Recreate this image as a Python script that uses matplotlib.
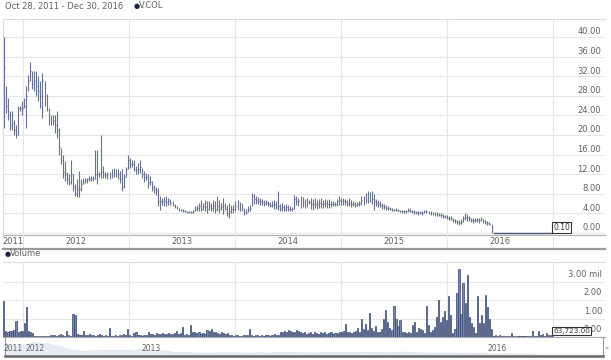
import matplotlib
matplotlib.use('Agg')
import matplotlib.pyplot as plt
import matplotlib.dates as mdates
from matplotlib.lines import Line2D
import pandas as pd
import numpy as np

plt.rcParams['font.family'] = ['DejaVu Sans']

# ---------------- data ----------------
start_date = '2011-10-28'
high = [
    40, 30, 27.5, 25, 25, 23, 22, 26, 26, 27,
    27.6, 30, 32.3, 35, 33, 33, 33, 32, 31, 32.7,
    31, 28.3, 25.5, 24, 24, 24, 25, 21.5, 17.4, 16,
    14.7, 12.5, 12, 15, 12, 10, 11, 12.7, 11, 11.3,
    11.3, 11.3, 11.7, 11.7, 11.7, 17, 17, 12.5, 20, 13.7,
    12.5, 12.5, 12.5, 13, 13.3, 13, 13, 12.6, 13, 12,
    13.5, 16, 15.3, 15, 15, 13.6, 14.3, 15, 13.3, 12.6,
    12.3, 12, 11.6, 10.6, 9.9, 9.5, 9.2, 7.5, 7.2, 7.3,
    7.5, 7.2, 7, 6.5, 6, 5.6, 5.2, 5, 4.9, 4.7,
    4.5, 4.5, 4.6, 4.8, 5.5, 5.8, 6.1, 6.8, 6.2, 6.8,
    6.5, 6.5, 6.2, 6.8, 6.5, 7.5, 6.8, 6.2, 7.2, 6.2,
    5.8, 6.1, 5.8, 5.8, 6.5, 6.8, 6.4, 6.2, 5.1, 5,
    5.5, 5.8, 8.2, 8, 7.5, 7.3, 7.2, 7, 6.8, 6.8,
    6.5, 6.4, 6.5, 6.8, 6.5, 8.5, 6, 6.1, 5.8, 6,
    5.8, 5.6, 5.4, 7.8, 7.5, 7.2, 7.5, 7.3, 7, 7.2,
    6.8, 7.1, 7, 7.1, 6.8, 7, 7.1, 6.8, 7, 6.8,
    7, 6.6, 6.6, 6.4, 7, 7.5, 7.2, 7.2, 7, 6.8,
    7.1, 6.8, 6.6, 6.4, 6.4, 6.6, 7.5, 7.6, 8.2, 8.5,
    8.3, 8.5, 8, 7, 6.8, 6.5, 6.1, 6, 5.8, 5.6,
    5.4, 5.1, 5, 5.1, 5, 4.8, 4.8, 4.7, 4.8, 5.1,
    5.1, 4.8, 4.7, 4.6, 4.5, 4.6, 4.5, 4.8, 4.8, 4.4,
    4.4, 4.3, 4.3, 4.2, 4.1, 4, 3.8, 3.7, 3.6, 3.5,
    3.4, 3.1, 2.9, 2.7, 2.6, 2.8, 3.5, 4.1, 3.8, 3.5,
    3.1, 3, 3, 3.1, 3, 3.2, 2.8, 2.6, 2.4, 2.3,
    1.9,
    0.1, 0.1, 0.1, 0.1, 0.1, 0.1, 0.1, 0.1, 0.1, 0.1,
    0.1, 0.1, 0.1, 0.1, 0.1, 0.1, 0.1, 0.1, 0.1, 0.1,
    0.1, 0.1, 0.1, 0.1, 0.1, 0.1, 0.1, 0.1, 0.1, 0.1,
]
low = [
    21.5, 24.5, 23, 21, 21, 20, 19.5, 20, 25, 24,
    25.5, 21.5, 29, 31, 29.5, 29, 28, 27, 25.5, 23.5,
    26, 25, 22, 22, 22, 20.5, 19.5, 16, 14, 11.3,
    10.6, 10, 9.8, 10, 8.6, 7.5, 7.3, 7.3, 8.6, 10,
    10.3, 10.3, 10.6, 10.6, 10.6, 11, 10, 11.5, 11.3, 11.3,
    11.3, 11, 11, 11.2, 11.5, 11.5, 11, 10.2, 8.5, 9.2,
    11.5, 13, 13.3, 13.5, 12.6, 12, 12, 12.3, 11.2, 10.5,
    10.8, 9.2, 9.9, 8.5, 8.2, 7.8, 5.5, 4.8, 5.8, 5.6,
    5.5, 5.8, 5.8, 5.5, 5.1, 4.9, 4.6, 4.5, 4.3, 4.3,
    4.1, 4.1, 4.1, 4.1, 4.4, 4.6, 4.4, 4.4, 4.8, 4.4,
    4.1, 4.8, 4.4, 4.4, 4.1, 4.4, 4.1, 4.8, 3.8, 4.8,
    3.4, 3.1, 4.1, 4.1, 4.5, 4.8, 4.4, 4.4, 3.7, 3.8,
    4.2, 4.4, 5.5, 6, 6, 6, 5.8, 5.8, 5.6, 5.8,
    5.5, 5.4, 5.3, 5, 5, 4.8, 4.6, 4.4, 4.5, 4.4,
    4.6, 4.5, 4.4, 5, 5.8, 5.5, 5.1, 5.3, 5.1, 5.4,
    6, 5, 4.8, 5.2, 5, 5.2, 5.2, 5.1, 5.3, 5.1,
    5.2, 5.4, 5.6, 5.5, 5.6, 5.8, 5.8, 5.8, 5.8, 5.6,
    5.6, 5.4, 5.5, 5.4, 5.5, 5.6, 5.8, 5.8, 6.1, 6.2,
    6.3, 6, 4.8, 5.5, 5.4, 5.4, 5, 4.9, 4.8, 4.8,
    4.7, 4.5, 4.4, 4.4, 4.4, 4.2, 4.1, 4.1, 4.1, 4.2,
    4.2, 4.1, 3.9, 3.8, 3.7, 3.8, 3.7, 4, 4.1, 3.8,
    3.7, 3.6, 3.5, 3.5, 3.4, 3.3, 3.1, 3, 2.8, 2.7,
    2.6, 2.3, 2, 1.8, 1.7, 1.8, 2.2, 2.6, 2.4, 2.5,
    2.2, 2.1, 2.2, 2.3, 2.1, 2.4, 2, 1.8, 1.7, 1.6,
    0.1,
    0.1, 0.1, 0.1, 0.1, 0.1, 0.1, 0.1, 0.1, 0.1, 0.1,
    0.1, 0.1, 0.1, 0.1, 0.1, 0.1, 0.1, 0.1, 0.1, 0.1,
    0.1, 0.1, 0.1, 0.1, 0.1, 0.1, 0.1, 0.1, 0.1, 0.1,
]
close = [
    34, 26, 24, 22, 22.5, 21, 20, 25.5, 25.5, 25.5,
    26, 28, 31, 33, 30.5, 31, 30, 29, 28, 31,
    27, 26, 23, 23, 23, 22, 21, 17.5, 15, 12.5,
    12, 11, 10.5, 12, 9.5, 8, 9, 9, 10, 10.5,
    10.8, 11, 11, 11.2, 11, 12, 12, 12, 12.5, 12,
    11.8, 12, 11.5, 12, 12.5, 12, 12, 11, 9.5, 11.5,
    13, 15, 14, 14, 13, 12.8, 13, 13.5, 12, 11.5,
    11.5, 10.5, 10.5, 9.5, 9, 8.5, 6.5, 6.5, 6.5, 6.5,
    6.3, 6.5, 6.2, 6, 5.5, 5.2, 4.9, 4.7, 4.5, 4.4,
    4.3, 4.2, 4.3, 4.5, 5, 5.2, 5.5, 5, 5.5, 5.3,
    5, 5.5, 5.2, 5.5, 5, 5.5, 5, 5.3, 4.5, 5,
    4, 4.5, 5, 5, 5.5, 6, 5.5, 5, 4.3, 4.2,
    5, 5.2, 7.5, 7, 6.8, 6.5, 6.5, 6.3, 6.2, 6.2,
    6, 5.8, 5.8, 6, 5.5, 5.5, 5.2, 5.3, 5, 5.3,
    5, 5, 5, 7, 6.5, 6.5, 6, 6.5, 6, 6.2,
    6.3, 6, 6, 6, 6, 6.2, 6, 6, 6.2, 6,
    6, 6, 6, 6, 6.5, 6.8, 6.5, 6.5, 6.3, 6,
    6.2, 6, 6, 5.8, 6, 6.2, 6.8, 7, 7.2, 7.5,
    7.3, 7, 6.5, 6.2, 6, 5.8, 5.5, 5.4, 5.2, 5.1,
    5, 4.8, 4.7, 4.7, 4.6, 4.5, 4.4, 4.4, 4.5, 4.7,
    4.6, 4.4, 4.3, 4.2, 4.1, 4.2, 4.1, 4.5, 4.4, 4.1,
    4, 3.9, 3.8, 3.8, 3.7, 3.6, 3.4, 3.3, 3.1, 3,
    2.9, 2.6, 2.4, 2.2, 2, 2.3, 3, 3.3, 3.2, 3,
    2.7, 2.6, 2.7, 2.8, 2.6, 2.9, 2.4, 2.2, 2, 1.9,
    0.1,
    0.1, 0.1, 0.1, 0.1, 0.1, 0.1, 0.1, 0.1, 0.1, 0.1,
    0.1, 0.1, 0.1, 0.1, 0.1, 0.1, 0.1, 0.1, 0.1, 0.1,
    0.1, 0.1, 0.1, 0.1, 0.1, 0.1, 0.1, 0.1, 0.1, 0.1,
]
volume_mil = [
    1.95, 0.35, 0.30, 0.32, 0.35, 0.38, 0.85, 0.30, 0.32, 0.35,
    0.75, 1.65, 0.35, 0.28, 0.20, 0.08, 0.07, 0.06, 0.06, 0.07,
    0.06, 0.05, 0.08, 0.10, 0.12, 0.10, 0.08, 0.12, 0.15, 0.10,
    0.08, 0.33, 0.10, 0.08, 1.28, 1.18, 0.15, 0.12, 0.10, 0.33,
    0.12, 0.10, 0.15, 0.10, 0.12, 0.08, 0.10, 0.14, 0.12, 0.08,
    0.10, 0.06, 0.47, 0.08, 0.06, 0.10, 0.08, 0.12, 0.10, 0.15,
    0.12, 0.43, 0.10, 0.08, 0.20, 0.25, 0.10, 0.12, 0.08, 0.10,
    0.12, 0.30, 0.15, 0.18, 0.12, 0.20, 0.18, 0.15, 0.20, 0.18,
    0.15, 0.20, 0.15, 0.18, 0.20, 0.35, 0.15, 0.20, 0.55, 0.12,
    0.15, 0.10, 0.65, 0.30, 0.25, 0.20, 0.30, 0.18, 0.22, 0.15,
    0.40, 0.35, 0.45, 0.30, 0.25, 0.20, 0.15, 0.28, 0.22, 0.15,
    0.20, 0.12, 0.10, 0.08, 0.10, 0.12, 0.06, 0.08, 0.10, 0.12,
    0.10, 0.43, 0.10, 0.08, 0.12, 0.10, 0.08, 0.10, 0.06, 0.10,
    0.12, 0.08, 0.10, 0.15, 0.10, 0.12, 0.30, 0.25, 0.35, 0.30,
    0.40, 0.35, 0.25, 0.30, 0.38, 0.32, 0.25, 0.20, 0.30, 0.15,
    0.20, 0.25, 0.15, 0.30, 0.20, 0.18, 0.25, 0.20, 0.30, 0.15,
    0.20, 0.28, 0.18, 0.22, 0.20, 0.30, 0.25, 0.35, 0.70, 0.25,
    0.30, 0.20, 0.25, 0.35, 0.50, 0.30, 1.00, 0.45, 0.70, 0.40,
    1.30, 0.50, 0.35, 0.60, 0.25, 0.30, 0.45, 1.00, 1.50, 0.80,
    0.50, 0.40, 1.70, 1.00, 0.60, 0.93, 0.30, 0.25, 0.20, 0.30,
    0.22, 0.65, 0.84, 0.30, 0.47, 0.42, 0.38, 0.20, 1.70, 0.65,
    0.30, 0.38, 0.56, 1.10, 2.00, 0.80, 1.10, 1.40, 0.93, 2.24,
    1.20, 0.20, 0.42, 2.38, 3.70, 1.25, 2.96, 1.84, 3.38, 1.10,
    0.75, 0.52, 0.20, 2.24, 0.75, 1.20, 0.75, 2.30, 1.65, 1.00,
    0.42, 0.08, 0.10, 0.06, 0.09, 0.05, 0.07, 0.04, 0.06, 0.08,
    0.24, 0.05, 0.06, 0.04, 0.07, 0.05, 0.06, 0.05, 0.08, 0.06,
    0.35, 0.05, 0.07, 0.35, 0.10, 0.15, 0.08, 0.20, 0.12, 0.10,
    0.064,
]
price_ticks = [0, 4, 8, 12, 16, 20, 24, 28, 32, 36, 40]
volume_ticks = [0, 1, 2, 3]
volume_tick_labels = ['0.00', '1.00', '2.00', '3.00 mil']
year_labels = ['2011', '2012', '2013', '2014', '2015', '2016']
nav_labels = ['2011', '2012', '2013', '2016']
nav_label_dates = ['2011-10-22', '2012-01-01', '2013-01-01', '2016-01-01']
title_text = 'Oct 28, 2011 - Dec 30, 2016'
symbol = 'V.COL'
last_price_label = '0.10'
last_volume_label = '63,723.00'

# ---------------- layout ----------------
W, H = 611, 360
fig = plt.figure(figsize=(W / 100, H / 100), dpi=100)
fig.patch.set_facecolor('white')

def ax_px(l, t, r, b, **kw):
    return fig.add_axes([l / W, 1 - b / H, (r - l) / W, (b - t) / H], **kw)

dates = pd.date_range(start_date, periods=len(close), freq='W-FRI')
dnum = mdates.date2num(dates.to_pydatetime())
high_a, low_a, close_a = np.array(high), np.array(low), np.array(close)

x_left = mdates.date2num(pd.Timestamp('2011-10-25'))
x_right = mdates.date2num(pd.Timestamp('2017-06-29'))
year_starts = [mdates.date2num(pd.Timestamp(f'{y}-01-01')) for y in range(2012, 2018)]

grid_c = '#e6e6e6'
txt_c = '#606060'
bar_c = '#66728f'
FS = 6

def style_plain(ax):
    ax.set_xticks([])
    ax.set_yticks([])
    for s in ax.spines.values():
        s.set_visible(False)
    ax.set_facecolor('none')

# price panel
ax = ax_px(3, 19, 605, 235)
style_plain(ax)
ax.set_xlim(x_left, x_right)
ax.set_ylim(-0.4, 43.7)
for v in price_ticks:
    ax.axhline(v, color=grid_c, lw=0.8, zorder=0)
for xv in year_starts:
    ax.axvline(xv, color=grid_c, lw=0.8, zorder=0)
ax.spines['top'].set_visible(True)
ax.spines['top'].set_color('#dddddd')
ax.spines['left'].set_visible(True)
ax.spines['left'].set_color('#dddddd')
ax.spines['bottom'].set_visible(True)
ax.spines['bottom'].set_color('#b0b0b0')
ax.vlines(dnum, low_a, high_a, color=bar_c, lw=0.8, zorder=3)
ax.hlines(close_a, dnum, dnum + 3, color=bar_c, lw=0.8, zorder=3)
flat = high_a == low_a
ax.plot(dnum[flat], close_a[flat], color='#4a5573', lw=1.0, zorder=3)
ptrans = matplotlib.transforms.blended_transform_factory(ax.transAxes, ax.transData)
for v in price_ticks:
    ax.text(0.993, v + 0.15, f'{v:.2f}', transform=ptrans, ha='right', va='bottom',
            fontsize=FS, color=txt_c, zorder=4)
ax.text(year_starts[-1], close[-1] + 0.15, last_price_label, ha='left', va='bottom',
        fontsize=5.5, color='#333333', zorder=6,
        bbox=dict(boxstyle='square,pad=0.12', fc='white', ec='#333333', lw=0.8))

# label band under price panel
band = ax_px(3, 235, 605, 249)
style_plain(band)
band.set_xlim(x_left, x_right)
band.set_ylim(0, 1)
for xv in year_starts:
    band.axvline(xv, color=grid_c, lw=0.8)
band.spines['bottom'].set_visible(True)
band.spines['bottom'].set_color('#9a9a9a')
band.spines['bottom'].set_linewidth(1.6)
label_edges = [x_left + 3] + year_starts[:5] + [year_starts[5]]
for i, lab in enumerate(year_labels):
    band.text((label_edges[i] + label_edges[i + 1]) / 2, 0.5, lab, ha='center', va='center',
              fontsize=FS, color=txt_c)

# volume panel
axv = ax_px(3, 262, 605, 337)
style_plain(axv)
axv.set_xlim(x_left, x_right)
axv.set_ylim(0, 4.1)
for v in volume_ticks:
    axv.axhline(v, color=grid_c, lw=0.8, zorder=0)
for xv in year_starts:
    axv.axvline(xv, color=grid_c, lw=0.8, zorder=0)
axv.spines['top'].set_visible(True)
axv.spines['top'].set_color('#dddddd')
axv.spines['bottom'].set_visible(True)
axv.spines['bottom'].set_color('#b0b0b0')
axv.bar(dnum, volume_mil, width=4.0, color='#7887ad', edgecolor='#34456f', lw=0.5, zorder=3)
vtrans = matplotlib.transforms.blended_transform_factory(axv.transAxes, axv.transData)
for v, lab in zip(volume_ticks, volume_tick_labels):
    axv.text(0.995, v + 0.17, lab, transform=vtrans, ha='right', va='bottom',
             fontsize=FS, color=txt_c, zorder=4)
axv.text(year_starts[-1], volume_mil[-1] + 0.12, last_volume_label, ha='left', va='bottom',
         fontsize=5.2, color='#333333', zorder=6,
         bbox=dict(boxstyle='square,pad=0.12', fc='white', ec='#333333', lw=0.8))

# navigator
nav = ax_px(5, 337, 603, 355)
style_plain(nav)
nav.set_xlim(dnum[0], dnum[-1])
nav.set_ylim(0, 47)
nav.fill_between(dnum, close_a, 0, color='#e6ecf3', lw=0)
nav.plot(dnum, close_a, color='#d8e0ea', lw=0.6)
for s in ['left', 'right']:
    nav.spines[s].set_visible(True)
    nav.spines[s].set_color('#999999')
ntrans = matplotlib.transforms.blended_transform_factory(nav.transData, nav.transAxes)
for lab, d in zip(nav_labels, nav_label_dates):
    nav.text(mdates.date2num(pd.Timestamp(d)), 0.35, lab, ha='left', va='center',
             fontsize=5.5, color=txt_c, transform=ntrans)
fig.add_artist(Line2D([5 / W, 603 / W], [1 - 356 / H, 1 - 356 / H], color='#666666', lw=1.8))
fig.text(607 / W, 1 - 348 / H, '«', fontsize=5, color='#888888', ha='center', va='center')

# headers
fig.text(5 / W, 1 - 6 / H, title_text, fontsize=FS, color=txt_c, ha='left', va='center')
fig.text(134 / W, 1 - 6 / H, '●', fontsize=5, color='#1c2640', ha='left', va='center')
fig.text(139 / W, 1 - 6 / H, symbol, fontsize=FS, color=txt_c, ha='left', va='center')
fig.text(5 / W, 1 - 254 / H, '●', fontsize=5, color='#1c2640', ha='left', va='center')
fig.text(10 / W, 1 - 254 / H, 'Volume', fontsize=FS, color=txt_c, ha='left', va='center')

fig.savefig('out.png', dpi=100, facecolor='white')
